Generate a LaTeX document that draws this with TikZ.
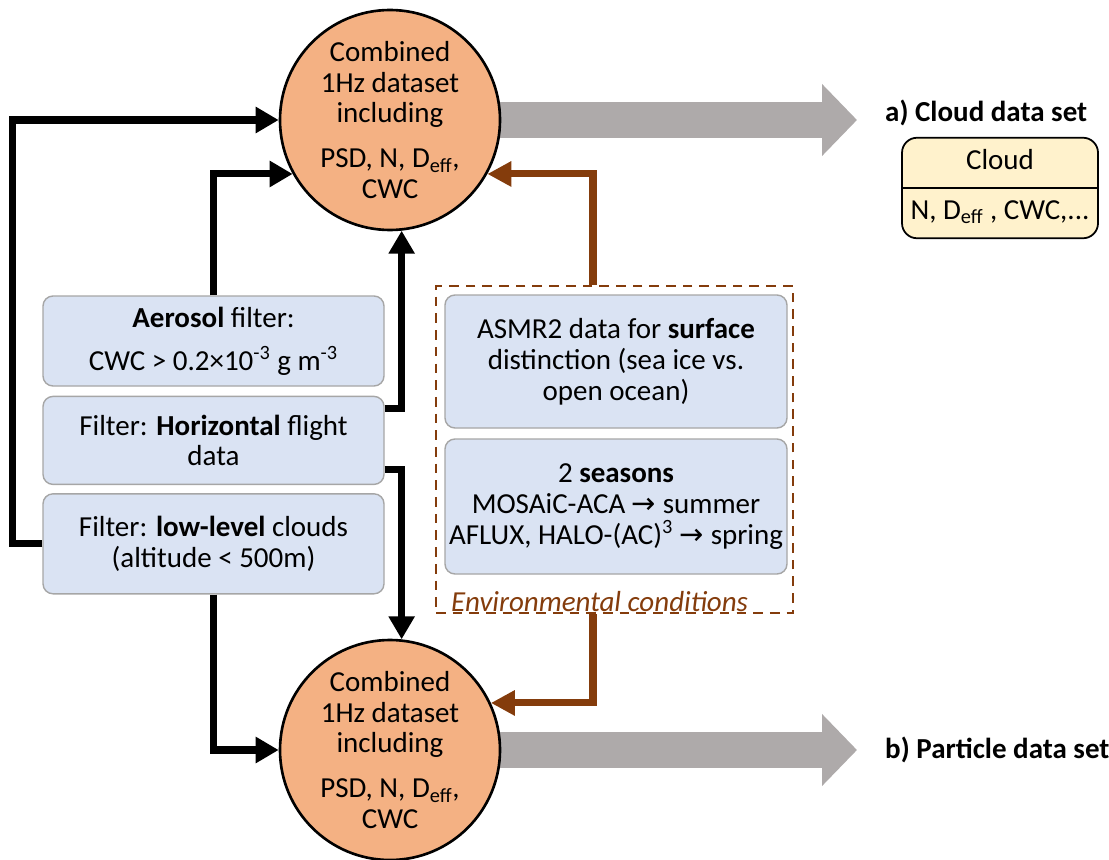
\documentclass[tikz,border=0pt]{standalone}
\usepackage{fontspec}
\setmainfont{Carlito}
\newfontfamily\arrowfont{DejaVu Sans}
\usepackage{tikz}
\usetikzlibrary{arrows.meta, positioning, shapes.multipart, backgrounds}

\definecolor{setorange}{HTML}{F4B183}
\definecolor{boxblue}{HTML}{DAE3F3}
\definecolor{boxgray}{HTML}{A6A6A6}
\definecolor{cloudyellow}{HTML}{FFF2CC}
\definecolor{outgray}{HTML}{AEAAAA}
\definecolor{envbrown}{HTML}{843C0C}

\newcommand{\deff}{D\textsubscript{eff}}
\newcommand{\goesto}{{\arrowfont →}}

\begin{document}
\begin{tikzpicture}[
    font=\fontsize{16.5}{17.6}\selectfont,
    dataset/.style={circle, draw=black, line width=1.5pt, fill=setorange,
      minimum size=4.4cm, inner sep=0pt, align=center},
    filterbox/.style={rectangle, rounded corners=0.2cm, draw=boxgray, line width=0.8pt,
      fill=boxblue, minimum width=6.82cm, align=center, inner sep=2pt},
    envitem/.style={filterbox, minimum width=6.84cm},
    envframe/.style={rectangle, draw=envbrown, dashed, dash pattern=on 5.5pt off 4pt,
      line width=1.4pt, minimum width=7.14cm, minimum height=6.54cm},
    cloudtable/.style={rectangle split, rectangle split parts=2, draw=black, line width=1pt,
      rounded corners=0.3cm, fill=cloudyellow, minimum width=3.92cm, inner xsep=2pt, inner ysep=5pt},
    flow/.style={-{Triangle[length=4.6mm, width=5mm]}, line width=4pt},
    envflow/.style={flow, draw=envbrown, -{Triangle[length=4.8mm, width=4.8mm, fill=envbrown]}},
    output/.style={-{Triangle[length=7mm, width=14mm]}, line width=7.2mm, draw=outgray},
  ]
  \useasboundingbox (0,0) rectangle (22.18,-17.18);

  % the two combined 1Hz data sets
  \node[dataset] (cloudset) at (7.8,-2.4)  {Combined\\1Hz dataset\\including\\[0.28cm]PSD, N, \deff,\\CWC};
  \node[dataset] (partset)  at (7.8,-15.0) {Combined\\1Hz dataset\\including\\[0.28cm]PSD, N, \deff,\\CWC};

  % filters
  \node[filterbox, minimum height=1.8cm]  (aerosol)    at (4.27,-6.82) {\textbf{Aerosol} filter:\\[0.24cm]CWC > 0.2×10\textsuperscript{-3} g m\textsuperscript{-3}};
  \node[filterbox, minimum height=1.76cm] (horizontal) [below=0.18cm of aerosol] {Filter: \textbf{Horizontal} flight\\data};
  \node[filterbox, minimum height=2cm]    (lowlevel)   [below=0.16cm of horizontal] {Filter: \textbf{low-level} clouds\\(altitude < 500m)};

  % environmental conditions
  \node[envframe] (env) at (12.29,-8.99) {};
  \node[envitem, minimum height=2.66cm] (asmr)    at (12.32,-7.23)  {ASMR2 data for \textbf{surface}\\distinction (sea ice vs.\\open ocean)};
  \node[envitem, minimum height=2.7cm]  (seasons) at (12.32,-10.13) {2 \textbf{seasons}\\MOSAiC-ACA \goesto{} summer\\AFLUX, HALO-(AC)\textsuperscript{3} \goesto{} spring};
  \node[anchor=west, text=envbrown] (envlabel) at (8.9,-12.04) {\textit{Environmental conditions}};

  % outputs
  \coordinate (cloudtip)    at (17.14,-2.4);
  \coordinate (particletip) at (17.14,-15.0);
  \node[anchor=west] (cloudtitle)    at (17.58,-2.26) {\textbf{a) Cloud data set}};
  \node[cloudtable]  (cloudvars)     at (20.0,-3.76)  {Cloud\strut\nodepart{two}N, \deff{} , CWC,...\strut};
  \node[anchor=west] (particletitle) at (17.58,-15.0) {\textbf{b) Particle data set}};

  \begin{scope}[on background layer]
    \draw[output] (cloudset.center) -- (cloudtip);
    \draw[output] (partset.center) -- (particletip);
  \end{scope}

  \draw[flow] (lowlevel.west) -- ++(-0.6,0) |- (cloudset.west);
  \draw[flow] (aerosol.north) |- (cloudset.209);
  \draw[flow] ([yshift=0.64cm]horizontal.east) -| (cloudset.-84);
  \draw[flow] ([yshift=-0.58cm]horizontal.east) -| (partset.84);
  \draw[flow] (lowlevel.south) |- (partset.west);
  \draw[envflow] ([xshift=-0.43cm]env.north) |- (cloudset.-29);
  \draw[envflow] ([xshift=-0.43cm]env.south) |- (partset.25);
\end{tikzpicture}
\end{document}
